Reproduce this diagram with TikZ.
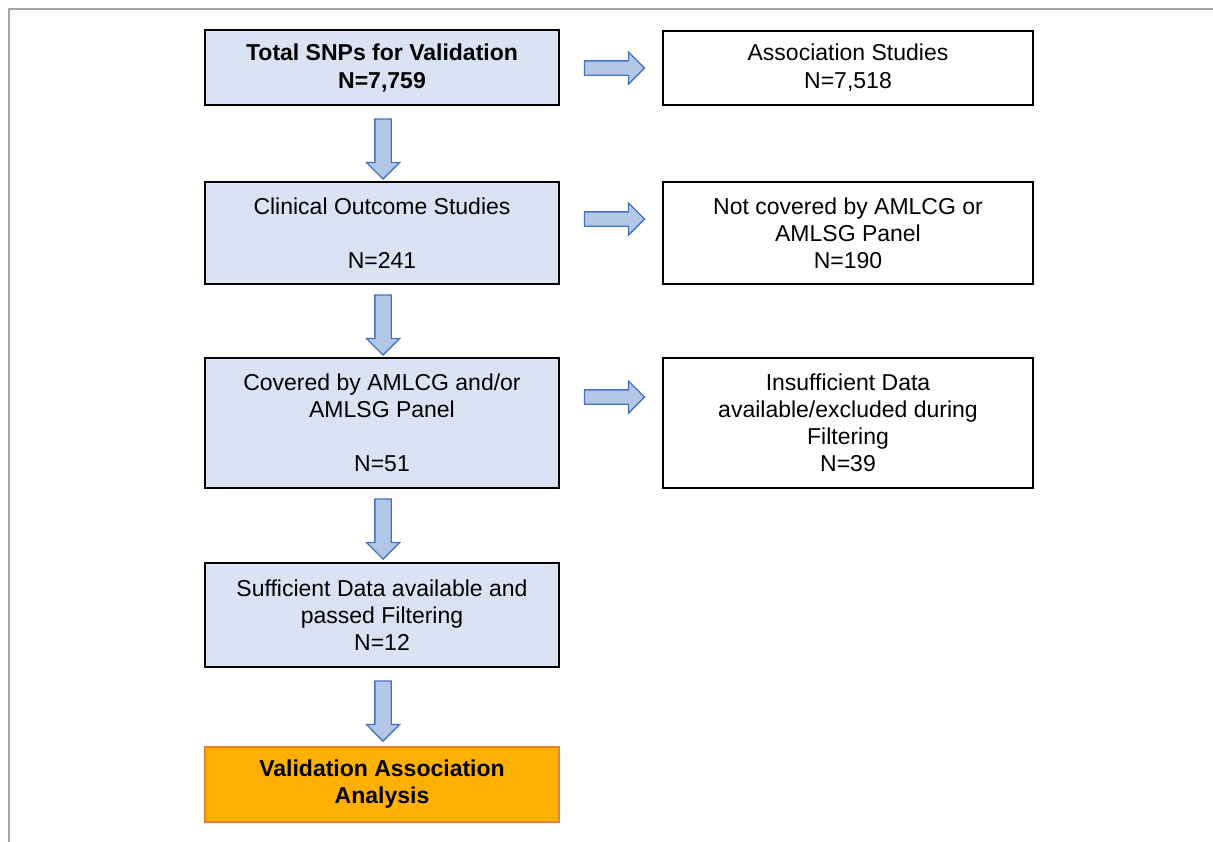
\documentclass[tikz,border=0pt]{standalone}
\usepackage{fontspec}
\setmainfont{Liberation Sans}
\usetikzlibrary{shapes.arrows}
\definecolor{boxfill}{HTML}{DAE3F3}
\definecolor{arrfill}{HTML}{B4C7E7}
\definecolor{arrline}{HTML}{4472C4}
\definecolor{orfill}{HTML}{FFB000}
\definecolor{orline}{HTML}{ED7D31}
\definecolor{frame}{HTML}{A6A6A6}
\tikzset{
  base/.style={draw=black, line width=1.8pt, align=center, inner sep=0pt,
    font=\fontsize{23pt}{27pt}\selectfont},
  lbox/.style={base, fill=boxfill, minimum width=354pt},
  rbox/.style={base, fill=white, minimum width=370pt},
  obox/.style={base, draw=orline, fill=orfill, minimum width=354pt, font=\fontsize{23pt}{27pt}\selectfont\bfseries},
  barrow/.style={single arrow, draw=arrline, fill=arrfill, line width=1.3pt,
    inner sep=6.5pt, single arrow head extend=9pt, minimum height=60pt},
  varrow/.style={barrow, shape border rotate=270, inner sep=7.5pt, single arrow head extend=8.5pt}
}
\begin{document}
\begin{tikzpicture}[x=1pt,y=-1pt]
\useasboundingbox (0,0) rectangle (1213,841);
\draw[frame, line width=2pt] (9,845) -- (9,8.5) -- (1220,8.5);
% left column
\node[lbox, minimum height=75pt, font=\fontsize{23pt}{28pt}\selectfont\bfseries] (b1) at (382,67.5) {Total SNPs for Validation\\N=7,759};
\node[lbox, minimum height=102pt] (b2) at (382,233) {Clinical Outcome Studies\\[27pt]N=241};
\node[lbox, minimum height=130pt] (b3) at (382,423) {Covered by AMLCG and/or\\AMLSG Panel\\[27pt]N=51};
\node[lbox, minimum height=104pt] (b4) at (382,615) {Sufficient Data available and\\passed Filtering\\N=12};
\node[obox, minimum height=75pt] (b5) at (382,784.5) {Validation Association\\Analysis};
% right column
\node[rbox, minimum height=74pt, font=\fontsize{23pt}{28pt}\selectfont] (r1) at (848,68) {Association Studies\\N=7,518};
\node[rbox, minimum height=102pt] (r2) at (848,233) {Not covered by AMLCG or\\AMLSG Panel\\N=190};
\node[rbox, minimum height=130pt] (r3) at (848,423) {Insufficient Data\\available/excluded during\\Filtering\\N=39};
% vertical arrows
\node[varrow] (v1) at (383,145) {};
\node[varrow] (v2) at (383,321) {};
\node[varrow] (v3) at (383,525) {};
\node[varrow] (v4) at (383,707) {};
% horizontal arrows
\node[barrow] (h1) at (611,68) {};
\node[barrow] (h2) at (611,219) {};
\node[barrow] (h3) at (611,397) {};
\end{tikzpicture}
\end{document}
